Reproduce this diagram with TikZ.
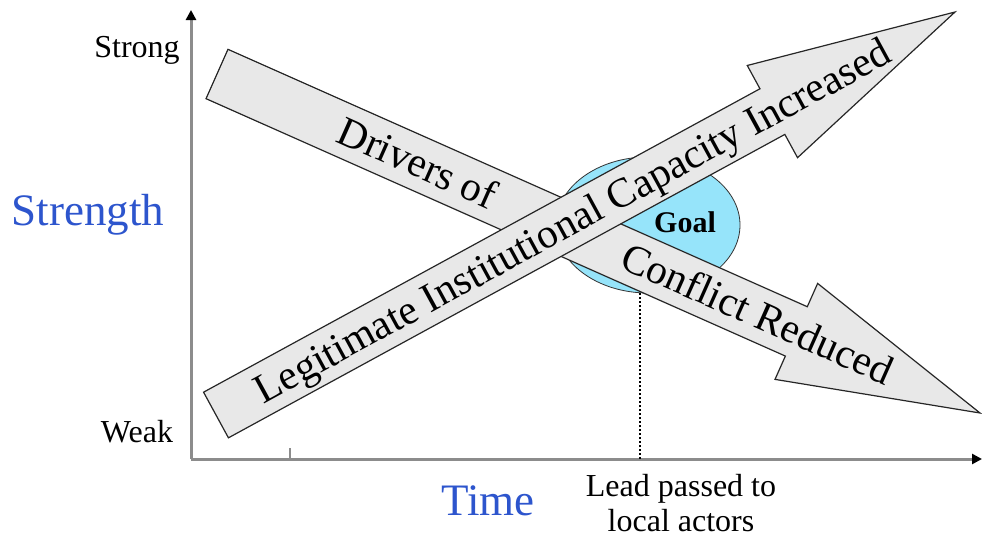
\documentclass[tikz,border=0pt]{standalone}
\usepackage{graphicx}
\usepackage{fontspec}
\setmainfont{Liberation Serif}
\usetikzlibrary{arrows.meta,calc,shapes.geometric}

\definecolor{axisgray}{RGB}{140,140,140}
\definecolor{labelblue}{RGB}{45,85,205}
\definecolor{goalfill}{RGB}{150,228,250}
\definecolor{arrowfill}{RGB}{232,232,232}

% block arrow from #1 (tail) to #2 (tip): half shaft #3, half head #4, head length #5
\newcommand{\blockarrow}[5]{%
  \coordinate (#1-base) at ($(#2)!#5!(#1)$);
  \draw[bigarrow] ($(#1)!#3!90:(#2)$) -- ($(#1-base)!#3!90:(#2)$) -- ($(#1-base)!#4!90:(#2)$) -- (#2)
    -- ($(#1-base)!#4!-90:(#2)$) -- ($(#1-base)!#3!-90:(#2)$) -- ($(#1)!#3!-90:(#2)$) -- cycle;}
% large text is set at 30pt and blown up
\newcommand{\grown}[2]{\scalebox{#1}{#2}}

\begin{document}
\begin{tikzpicture}[x=1pt, y=-1pt,
  axis/.style={line width=3pt, axisgray, -{Triangle[length=10pt,width=10pt,color=black]}},
  bigarrow/.style={draw=black!85, line width=1.2pt, fill=arrowfill, line join=miter},
  arrowtext/.style={font=\fontsize{30}{34}\selectfont, text height=27pt, text depth=0pt, inner sep=0pt},
  small/.style={font=\fontsize{32}{35}\selectfont, inner sep=0pt, anchor=base},
  big/.style={font=\fontsize{30}{34}\selectfont, text=labelblue, inner sep=0pt, anchor=base}]
\useasboundingbox (0,0) rectangle (982,538);

% axes
\coordinate (origin) at (191,459);
\coordinate (ytop) at (191,10);
\coordinate (xend) at (982,459);
\coordinate (handover) at (640,459);
\draw[axis] (origin) -- (ytop);
\draw[axis] (origin) -- (xend);
\draw[axisgray, line width=1.5pt] (290,459) -- (290,448);

% axis labels
\node[small] (strong) at (137,57) {Strong};
\node[small] (weak) at (137,442) {Weak};
\node[big] (strength) at (88,225) {\grown{1.5}{Strength}};
\node[big] (time) at (488,515) {\grown{1.5}{Time}};
\node[small, anchor=north, align=center] (lead) at (681,474) {Lead passed to\\local actors};

% goal
\node[ellipse, draw=black!80, line width=0.8pt, fill=goalfill, minimum width=184, minimum height=136] (goal) at (648,225) {};
\draw[black, line width=2.6pt, dash pattern=on 2pt off 2pt] (handover |- goal.south) -- (handover);
\node[font=\fontsize{30}{34}\selectfont\bfseries, inner sep=0pt, anchor=base] (goallabel) at (685,232) {Goal};

% conflict arrow
\coordinate (dtail) at (217,74);
\coordinate (dtip) at (980,413);
\blockarrow{dtail}{dtip}{27pt}{52.5pt}{201pt}
\path (dtail) -- (dtip)
  node[arrowtext, pos=0.263, sloped] (drivers) {\grown{1.383}{Drivers of}}
  node[arrowtext, pos=0.708, sloped] (conflict) {\grown{1.383}{Conflict Reduced}};

% capacity arrow
\coordinate (utail) at (216,415);
\coordinate (utip) at (955,12);
\blockarrow{utail}{utip}{26pt}{52.5pt}{208pt}
\path (utail) -- (utip)
  node[arrowtext, pos=0.482, sloped] (capacity) {\grown{1.383}{Legitimate Institutional Capacity Increased}};
\end{tikzpicture}
\end{document}
